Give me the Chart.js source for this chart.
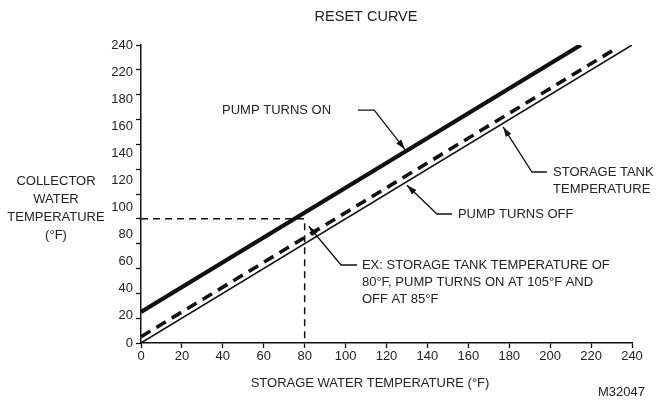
<!DOCTYPE html>
<html><head><meta charset="utf-8">
<script src="https://cdn.jsdelivr.net/npm/chart.js@4.4.1/dist/chart.umd.min.js"></script>
<style>html,body{margin:0;padding:0;background:#fff}#wrap{width:656px;height:400px}</style>
</head><body><div id="wrap"><canvas id="c" width="656" height="400"></canvas></div>
<script>
// ---- data ----
const Y_TICK_LABELS = ['240','220','180','160','140','120','100','80','60','40','20','0'];
const STORAGE_X = [0, 240];
const STORAGE_Y = [0, 240];
const PUMP_ON_X = [0, 215];
const PUMP_ON_Y = [25, 240];
const PUMP_OFF_X = [0, 233];
const PUMP_OFF_Y = [5, 238];
const EXAMPLE_X = [0, 80, 80];
const EXAMPLE_Y = [100, 100, 0];

const TITLE = 'RESET CURVE';
const X_TITLE = 'STORAGE WATER TEMPERATURE (°F)';
const Y_TITLE = ['COLLECTOR', 'WATER', 'TEMPERATURE', '(°F)'];
const FIG_ID = 'M32047';

// annotations (text anchor + leader path in data units)
const ANNOTATIONS = [
  {lines: ['PUMP TURNS ON'], at: [39.6, 187.6], leader: [[106, 187.6], [114, 187.6], [129, 156]]},
  {lines: ['STORAGE TANK', 'TEMPERATURE'], at: [201.4, 137.7], leader: [[198.4, 137.7], [191.1, 137.7], [177, 174]]},
  {lines: ['PUMP TURNS OFF'], at: [154.9, 103.9], leader: [[152, 103.9], [144.7, 103.9], [130, 127]]},
  {lines: ['EX: STORAGE TANK TEMPERATURE OF', '80°F, PUMP TURNS ON AT 105°F AND', 'OFF AT 85°F'], at: [108, 62.8], leader: [[105.6, 62.8], [97.8, 62.8], [82, 94]]}
];

const FONT = '"Liberation Sans", Arial, sans-serif';
const INK = '#222';
const LINE = '#111';

function pts(xs, ys) { return xs.map((x, i) => ({x: x, y: ys[i]})); }

const overlay = {
  id: 'overlay',
  afterDatasetsDraw(chart) {
    const ctx = chart.ctx;
    const xs = chart.scales.x, ys = chart.scales.y;
    const ca = chart.chartArea;
    ctx.save();
    ctx.fillStyle = INK;
    ctx.font = '13px ' + FONT;
    ctx.textBaseline = 'middle';
    ctx.textAlign = 'left';
    // annotations
    ANNOTATIONS.forEach(a => {
      const tx = xs.getPixelForValue(a.at[0]);
      const ty = ys.getPixelForValue(a.at[1]);
      a.lines.forEach((l, i) => ctx.fillText(l, tx, ty + i * 17));
      const p = a.leader.map(q => [xs.getPixelForValue(q[0]), ys.getPixelForValue(q[1])]);
      ctx.strokeStyle = LINE;
      ctx.lineWidth = 1.3;
      ctx.beginPath();
      ctx.moveTo(p[0][0], p[0][1]);
      for (let i = 1; i < p.length; i++) ctx.lineTo(p[i][0], p[i][1]);
      ctx.stroke();
      const e = p[p.length - 1], s = p[p.length - 2];
      const ang = Math.atan2(e[1] - s[1], e[0] - s[0]);
      const L = 10, W = 3.2;
      ctx.beginPath();
      ctx.moveTo(e[0], e[1]);
      ctx.lineTo(e[0] - L * Math.cos(ang) + W * Math.sin(ang), e[1] - L * Math.sin(ang) - W * Math.cos(ang));
      ctx.lineTo(e[0] - L * Math.cos(ang) - W * Math.sin(ang), e[1] - L * Math.sin(ang) + W * Math.cos(ang));
      ctx.closePath();
      ctx.fillStyle = LINE;
      ctx.fill();
      ctx.fillStyle = INK;
    });
    // title
    ctx.textAlign = 'center';
    ctx.font = '14.5px ' + FONT;
    ctx.fillText(TITLE, 366, 17);
    ctx.font = '13px ' + FONT;
    ctx.fillText(X_TITLE, 370, 383);
    Y_TITLE.forEach((l, i) => ctx.fillText(l, 56, 181 + i * 18));
    ctx.textAlign = 'right';
    ctx.fillText(FIG_ID, 645, 392);
    ctx.restore();
  }
};

const axisCommon = {
  grid: {drawOnChartArea: false, drawTicks: true, tickLength: 5, tickColor: LINE, tickWidth: 1.3},
  border: {color: LINE, width: 1.5}
};

new Chart(document.getElementById('c'), {
  type: 'line',
  data: {
    datasets: [
      {label: 'PUMP TURNS ON', data: pts(PUMP_ON_X, PUMP_ON_Y), borderColor: LINE, borderWidth: 4.2, pointRadius: 0, fill: false, tension: 0, borderCapStyle: 'butt'},
      {label: 'PUMP TURNS OFF', data: pts(PUMP_OFF_X, PUMP_OFF_Y), borderColor: LINE, borderWidth: 3.6, borderDash: [11, 7], pointRadius: 0, fill: false, tension: 0},
      {label: 'STORAGE TANK TEMPERATURE', data: pts(STORAGE_X, STORAGE_Y), borderColor: LINE, borderWidth: 1.5, pointRadius: 0, fill: false, tension: 0},
      {label: 'EXAMPLE', data: pts(EXAMPLE_X, EXAMPLE_Y), borderColor: LINE, borderWidth: 1.5, borderDash: [7, 5], pointRadius: 0, fill: false, tension: 0}
    ]
  },
  options: {
    responsive: false,
    animation: false,
    layout: {padding: {left: 95, top: 45, right: 24, bottom: 17}},
    plugins: {legend: {display: false}, tooltip: {enabled: false}, title: {display: false}},
    scales: {
      x: Object.assign({}, axisCommon, {
        type: 'linear', min: 0, max: 240,
        ticks: {stepSize: 20, color: INK, font: {size: 13, family: FONT}, padding: 1, maxRotation: 0, autoSkip: false},
        afterFit(s) { s.height = 40; }
      }),
      y: Object.assign({}, axisCommon, {
        type: 'linear', position: 'left', min: 0, max: 240, weight: 0,
        ticks: {stepSize: 20, display: false},
        afterFit(s) { s.width = 6; }
      }),
      yl: {
        type: 'category', position: 'left', labels: Y_TICK_LABELS, offset: false, weight: 10, display: true,
        grid: {display: false, drawTicks: false},
        border: {display: false},
        ticks: {color: INK, font: {size: 13, family: FONT}, padding: 2, autoSkip: false},
        afterFit(s) { s.width = 40; }
      }
    }
  },
  plugins: [overlay]
});
</script>
</body></html>
